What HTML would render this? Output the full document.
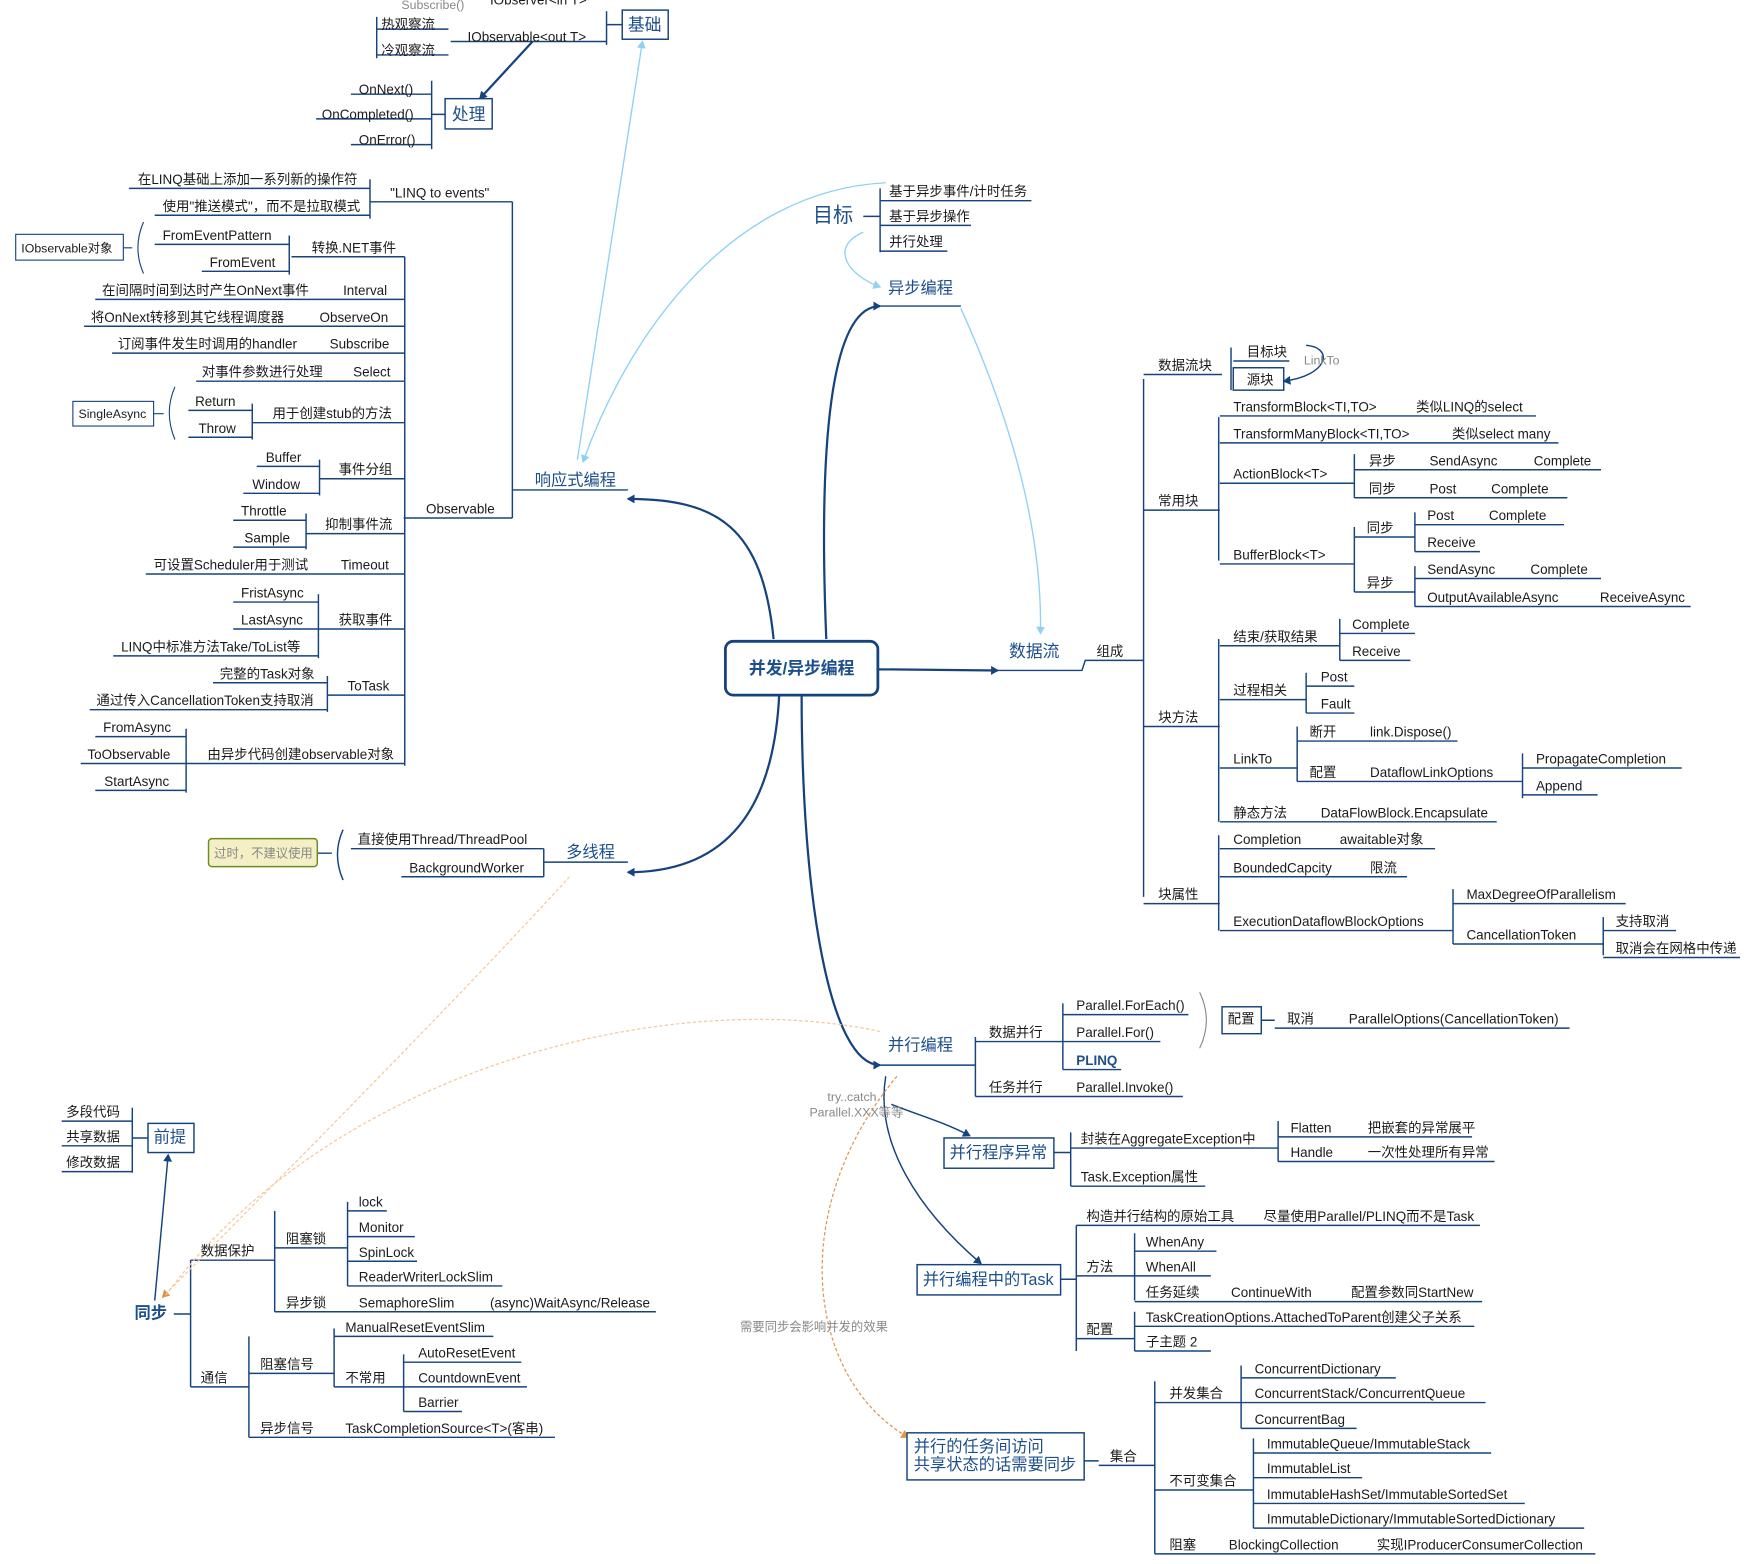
<!DOCTYPE html>
<html><head><meta charset="utf-8">
<style>
html,body{margin:0;padding:0;background:#fff;}
svg{display:block;}
text{font-family:"Liberation Sans","Noto Sans CJK SC",sans-serif;font-size:12px;fill:#1b1b1b;}
.b{font-size:14.5px;fill:#1d4f8c;}
.g{fill:#888;font-size:11px;}
</style></head><body>
<svg width="1749" height="1564" viewBox="0 0 1560 1395" xmlns="http://www.w3.org/2000/svg">
<defs>
<marker id="a" markerWidth="8" markerHeight="8" refX="6" refY="4" orient="auto" markerUnits="userSpaceOnUse"><path d="M0,0 L7,4 L0,8 z" fill="#16437e"/></marker>
<marker id="lb" markerWidth="8" markerHeight="8" refX="6" refY="4" orient="auto" markerUnits="userSpaceOnUse"><path d="M0,0 L7,4 L0,8 z" fill="#8fd0f5"/></marker>
<marker id="o" markerWidth="8" markerHeight="8" refX="6" refY="4" orient="auto" markerUnits="userSpaceOnUse"><path d="M0,0 L7,4 L0,8 z" fill="#e0954a"/></marker>
</defs>
<g fill="none" stroke="#16437e" stroke-width="1.3">
<!-- top-left -->
<path d="M336 15V52M336 26H400M336 49H400M402 37H541M541 10V40M541 22H555M313 84H385M282 106H385M313 129H385M385 72V133M385 102H397"/>
<path d="M475 37L428 88" marker-end="url(#a)" stroke-width="2"/>
<path d="M115 168H330M138 192H330M330 160V195M330 180H457M457 180V462M360 462H457M457 437H560"/>
<path d="M361 229V683M260 229H361M138 218H258M180 242H258M258 210V245M85 267H361M75 291H361M100 315H361M175 340H361M225 377H361M168 366H225M168 390H225M225 360V392M285 427H361M229 416H285M217 440H285M285 410V442M273 476H361M208 464H273M208 488H273M273 458V490M130 512H361M284 561H361M208 537H284M208 561H284M101 585H284M284 530V587M292 620H361M190 609H292M80 633H292M292 603V635M166 681H361M85 657H166M72 681H166M85 705H166M166 650V707"/>
<path d="M128 198Q118 221 128 244M110 221H118M156 345Q146 368 156 392M137 369H146" stroke-width="1"/>
<path d="M313 757H485M358 782H485M485 757V782M485 769H560M306 740Q296 762 306 785M283 761H296" />
<!-- center links -->
<path d="M690 570C680 470 640 445 560 445" marker-end="url(#a)" stroke-width="2"/>
<path d="M695 620C690 720 650 778 560 778" marker-end="url(#a)" stroke-width="2"/>
<path d="M737 570C730 400 740 273 785 273" marker-end="url(#a)" stroke-width="2"/>
<path d="M715 620C715 800 740 950 785 950" marker-end="url(#a)" stroke-width="2"/>
<path d="M783 597L890 598" marker-end="url(#a)" stroke-width="2"/>
<path d="M785 273H857M785 168V225M785 179H920M785 201H866M785 224H845M770 193H785"/>
<!-- dataflow -->
<path d="M890 598H965L968 589H1020M1020 338V800M1020 334H1090M1098 310V348M1100 322H1150M1020 455H1088M1087 372V500M1088 371H1370M1088 395H1390M1088 431H1208M1208 405V444M1208 419H1428M1208 444H1398M1088 503H1208M1208 470V528M1208 479H1262M1262 457V492M1262 468H1395M1262 492H1320M1208 528H1262M1262 505V541M1262 516H1428M1262 541H1508"/>
<path d="M1020 648H1088M1087 570V733M1088 576H1195M1195 552V589M1195 565H1262M1195 589H1258M1088 624H1165M1165 600V636M1165 612H1208M1165 636H1208M1088 685H1157M1157 648V697M1157 661H1300M1157 697H1358M1358 672V712M1358 685H1500M1358 709H1425M1088 733H1335"/>
<path d="M1020 806H1088M1087 745V830M1088 757H1280M1088 782H1255M1088 830H1296M1296 793V842M1296 806H1450M1296 842H1430M1430 818V852M1430 830H1495M1430 854H1552"/>
<path d="M1165 308C1190 310 1185 335 1145 340" marker-end="url(#a)"/>
<!-- parallel -->
<path d="M785 950H870M870 925V978M870 929H948M948 895V954M948 905H1060M948 929H1035M948 954H1000M1125 910H1137M1137 917H1400M870 978H1055"/>
<path d="M1070 885Q1082 910 1070 935" stroke="#888" stroke-width="1"/>
<path d="M795 985C820 995 840 1000 865 1013" marker-end="url(#a)"/>
<path d="M790 960C780 1020 820 1080 875 1127" marker-end="url(#a)"/>
<path d="M940 1028H955M955 1010V1058M955 1024H1140M1140 1000V1036M1140 1014H1313M1140 1036H1333M955 1058H1075"/>
<path d="M946 1141H960M960 1093V1205M960 1093H1320M960 1138H1012M1012 1100V1160M1012 1116H1085M1012 1138H1080M1012 1161H1322M960 1194H1012M1012 1170V1205M1012 1183H1315M1012 1205H1080"/>
<path d="M967 1303H980M980 1307H1030M1030 1232V1386M1030 1251H1107M1107 1218V1274M1107 1229H1245M1107 1251H1325M1107 1274H1210M1030 1329H1118M1118 1283V1363M1118 1296H1330M1118 1318H1215M1118 1341H1360M1118 1363H1413M1030 1386H1423"/>
<!-- bottom-left -->
<path d="M118 988V1046M55 1000H118M55 1022H118M55 1045H118M118 1015H132"/>
<path d="M138 1160L150 1030" marker-end="url(#a)"/>
<path d="M155 1172H170M170 1124V1237M170 1124H245M245 1080V1170M245 1113H310M310 1072V1147M310 1080H345M310 1103H370M310 1125H372M310 1147H448M245 1170H585M170 1237H222M222 1192V1282M222 1225H298M298 1185V1237M298 1192H440M298 1237H360M360 1208V1259M360 1215H465M360 1237H470M360 1259H412M222 1282H495"/>
</g>
<!-- light blue -->
<g fill="none" stroke="#8fd0f5" stroke-width="1.2">
<path d="M790 163C650 170 560 300 520 412" marker-end="url(#lb)"/>
<path d="M515 410L573 37" marker-end="url(#lb)"/>
<path d="M770 207C740 220 755 245 785 256" marker-end="url(#lb)"/>
<path d="M857 275C900 370 930 470 928 565" marker-end="url(#lb)"/>
</g>
<g fill="none" stroke="#e0954a" stroke-width="1.1" stroke-dasharray="3,2">
<path d="M800 960C700 1080 720 1230 810 1282" marker-end="url(#o)"/>
<path d="M508 782C400 900 250 1050 145 1157" marker-end="url(#o)" stroke="#f5c89a"/>
<path d="M785 920C600 880 300 950 148 1155" stroke="#f5c89a" stroke-dasharray=""/>
</g>
<!-- boxes -->
<g fill="#fff" stroke="#16437e" stroke-width="1.3">
<rect x="555" y="9" width="41" height="26"/>
<rect x="397" y="88" width="42" height="27"/>
<rect x="14" y="209" width="96" height="23" stroke-width="1"/>
<rect x="65" y="358" width="72" height="22" stroke-width="1"/>
<rect x="186" y="748" width="97" height="25" rx="3" fill="#f4efc5" stroke="#6b8e23"/>
<rect x="647" y="572" width="136" height="48" rx="7" stroke-width="2.5"/>
<rect x="1100" y="328" width="45" height="20"/>
<rect x="1090" y="898" width="35" height="24"/>
<rect x="842" y="1015" width="98" height="27"/>
<rect x="818" y="1128" width="128" height="27"/>
<rect x="809" y="1278" width="158" height="42"/>
<rect x="132" y="1002" width="41" height="26"/>
</g>
<!-- texts -->
<text x="358" y="8" class="g">Subscribe()</text><text x="437" y="4">IObserver&lt;in T&gt;</text>
<text x="340" y="26">热观察流</text><text x="340" y="49">冷观察流</text>
<text x="417" y="37">IObservable&lt;out T&gt;</text>
<text x="560" y="27" class="b" style="font-size:15px">基础</text>
<text x="320" y="84">OnNext()</text><text x="287" y="106">OnCompleted()</text><text x="320" y="129">OnError()</text>
<text x="403" y="107" class="b" style="font-size:15px">处理</text>
<text x="123" y="164">在LINQ基础上添加一系列新的操作符</text>
<text x="145" y="188">使用"推送模式"，而不是拉取模式</text>
<text x="348" y="176">"LINQ to events"</text>
<text x="19" y="225" style="font-size:11px">IObservable对象</text>
<text x="145" y="214">FromEventPattern</text><text x="187" y="238">FromEvent</text><text x="278" y="225">转换.NET事件</text>
<text x="91" y="263">在间隔时间到达时产生OnNext事件</text><text x="306" y="263">Interval</text>
<text x="81" y="287">将OnNext转移到其它线程调度器</text><text x="285" y="287">ObserveOn</text>
<text x="105" y="311">订阅事件发生时调用的handler</text><text x="294" y="311">Subscribe</text>
<text x="180" y="336">对事件参数进行处理</text><text x="315" y="336">Select</text>
<text x="70" y="373" style="font-size:11px">SingleAsync</text>
<text x="174" y="362">Return</text><text x="177" y="386">Throw</text><text x="243" y="373">用于创建stub的方法</text>
<text x="237" y="412">Buffer</text><text x="225" y="436">Window</text><text x="302" y="423">事件分组</text>
<text x="215" y="460">Throttle</text><text x="218" y="484">Sample</text><text x="290" y="472">抑制事件流</text>
<text x="137" y="508">可设置Scheduler用于测试</text><text x="304" y="508">Timeout</text>
<text x="215" y="533">FristAsync</text><text x="215" y="557">LastAsync</text><text x="108" y="581">LINQ中标准方法Take/ToList等</text><text x="302" y="557">获取事件</text>
<text x="196" y="605">完整的Task对象</text><text x="86" y="629">通过传入CancellationToken支持取消</text><text x="310" y="616">ToTask</text>
<text x="92" y="653">FromAsync</text><text x="78" y="677">ToObservable</text><text x="93" y="701">StartAsync</text><text x="185" y="677">由异步代码创建observable对象</text>
<text x="380" y="458">Observable</text>
<text x="477" y="433" class="b">响应式编程</text>
<text x="191" y="765" class="g">过时，不建议使用</text>
<text x="319" y="753">直接使用Thread/ThreadPool</text><text x="365" y="778">BackgroundWorker</text>
<text x="505" y="765" class="b">多线程</text>
<text x="668" y="601" style="font-size:15px;font-weight:bold;fill:#1d4f8c">并发/异步编程</text>
<text x="725" y="198" class="b" style="font-size:18px">目标</text>
<text x="793" y="175">基于异步事件/计时任务</text><text x="793" y="197">基于异步操作</text><text x="793" y="220">并行处理</text>
<text x="792" y="262" class="b">异步编程</text>
<text x="900" y="586" class="b" style="font-size:15px">数据流</text><text x="978" y="585">组成</text>
<text x="1033" y="330">数据流块</text><text x="1112" y="318">目标块</text><text x="1112" y="343">源块</text><text x="1163" y="325" class="g">LinkTo</text>
<text x="1033" y="451">常用块</text>
<text x="1100" y="367">TransformBlock&lt;TI,TO&gt;</text><text x="1263" y="367">类似LINQ的select</text>
<text x="1100" y="391">TransformManyBlock&lt;TI,TO&gt;</text><text x="1295" y="391">类似select many</text>
<text x="1100" y="427">ActionBlock&lt;T&gt;</text>
<text x="1221" y="415">异步</text><text x="1275" y="415">SendAsync</text><text x="1368" y="415">Complete</text>
<text x="1221" y="440">同步</text><text x="1275" y="440">Post</text><text x="1330" y="440">Complete</text>
<text x="1100" y="499">BufferBlock&lt;T&gt;</text>
<text x="1219" y="475">同步</text><text x="1273" y="464">Post</text><text x="1328" y="464">Complete</text><text x="1273" y="488">Receive</text>
<text x="1219" y="524">异步</text><text x="1273" y="512">SendAsync</text><text x="1365" y="512">Complete</text><text x="1273" y="537">OutputAvailableAsync</text><text x="1427" y="537">ReceiveAsync</text>
<text x="1033" y="644">块方法</text>
<text x="1100" y="572">结束/获取结果</text><text x="1206" y="561">Complete</text><text x="1206" y="585">Receive</text>
<text x="1100" y="620">过程相关</text><text x="1178" y="608">Post</text><text x="1178" y="632">Fault</text>
<text x="1100" y="681">LinkTo</text><text x="1168" y="657">断开</text><text x="1222" y="657">link.Dispose()</text>
<text x="1168" y="693">配置</text><text x="1222" y="693">DataflowLinkOptions</text><text x="1370" y="681">PropagateCompletion</text><text x="1370" y="705">Append</text>
<text x="1100" y="729">静态方法</text><text x="1178" y="729">DataFlowBlock.Encapsulate</text>
<text x="1033" y="802">块属性</text>
<text x="1100" y="753">Completion</text><text x="1195" y="753">awaitable对象</text>
<text x="1100" y="778">BoundedCapcity</text><text x="1222" y="778">限流</text>
<text x="1100" y="826">ExecutionDataflowBlockOptions</text><text x="1308" y="802">MaxDegreeOfParallelism</text><text x="1308" y="838">CancellationToken</text>
<text x="1441" y="826">支持取消</text><text x="1441" y="850">取消会在网格中传递</text>
<text x="792" y="937" class="b">并行编程</text>
<text x="882" y="925">数据并行</text><text x="960" y="901">Parallel.ForEach()</text><text x="960" y="925">Parallel.For()</text><text x="960" y="950" style="font-weight:bold;fill:#1d4f8c">PLINQ</text>
<text x="1095" y="913">配置</text><text x="1148" y="913">取消</text><text x="1203" y="913">ParallelOptions(CancellationToken)</text>
<text x="882" y="974">任务并行</text><text x="960" y="974">Parallel.Invoke()</text>
<text x="738" y="982" class="g">try..catch</text><text x="722" y="996" class="g">Parallel.XXX等等</text>
<text x="847" y="1033" class="b">并行程序异常</text>
<text x="964" y="1020">封装在AggregateException中</text><text x="1151" y="1010">Flatten</text><text x="1220" y="1010">把嵌套的异常展平</text>
<text x="1151" y="1032">Handle</text><text x="1220" y="1032">一次性处理所有异常</text><text x="964" y="1054">Task.Exception属性</text>
<text x="823" y="1146" class="b">并行编程中的Task</text>
<text x="969" y="1089">构造并行结构的原始工具</text><text x="1127" y="1089">尽量使用Parallel/PLINQ而不是Task</text>
<text x="969" y="1134">方法</text><text x="1022" y="1112">WhenAny</text><text x="1022" y="1134">WhenAll</text>
<text x="1022" y="1157">任务延续</text><text x="1098" y="1157">ContinueWith</text><text x="1205" y="1157">配置参数同StartNew</text>
<text x="969" y="1190">配置</text><text x="1022" y="1179">TaskCreationOptions.AttachedToParent创建父子关系</text><text x="1022" y="1201">子主题 2</text>
<text x="660" y="1187" class="g">需要同步会影响并发的效果</text>
<text x="815" y="1295" class="b">并行的任务间访问</text><text x="815" y="1311" class="b">共享状态的话需要同步</text>
<text x="990" y="1303">集合</text>
<text x="1043" y="1247">并发集合</text><text x="1119" y="1225">ConcurrentDictionary</text><text x="1119" y="1247">ConcurrentStack/ConcurrentQueue</text><text x="1119" y="1270">ConcurrentBag</text>
<text x="1043" y="1325">不可变集合</text><text x="1130" y="1292">ImmutableQueue/ImmutableStack</text><text x="1130" y="1314">ImmutableList</text><text x="1130" y="1337">ImmutableHashSet/ImmutableSortedSet</text><text x="1130" y="1359">ImmutableDictionary/ImmutableSortedDictionary</text>
<text x="1043" y="1382">阻塞</text><text x="1096" y="1382">BlockingCollection</text><text x="1228" y="1382">实现IProducerConsumerCollection</text>
<text x="59" y="996">多段代码</text><text x="59" y="1018">共享数据</text><text x="59" y="1041">修改数据</text>
<text x="137" y="1019" class="b">前提</text>
<text x="120" y="1176" class="b" style="font-weight:bold">同步</text>
<text x="179" y="1120">数据保护</text><text x="255" y="1109">阻塞锁</text>
<text x="320" y="1076">lock</text><text x="320" y="1099">Monitor</text><text x="320" y="1121">SpinLock</text><text x="320" y="1143">ReaderWriterLockSlim</text>
<text x="255" y="1166">异步锁</text><text x="320" y="1166">SemaphoreSlim</text><text x="437" y="1166">(async)WaitAsync/Release</text>
<text x="179" y="1233">通信</text><text x="232" y="1221">阻塞信号</text><text x="308" y="1188">ManualResetEventSlim</text><text x="308" y="1233">不常用</text>
<text x="373" y="1211">AutoResetEvent</text><text x="373" y="1233">CountdownEvent</text><text x="373" y="1255">Barrier</text>
<text x="232" y="1278">异步信号</text><text x="308" y="1278">TaskCompletionSource&lt;T&gt;(客串)</text>
</svg>
</body></html>
